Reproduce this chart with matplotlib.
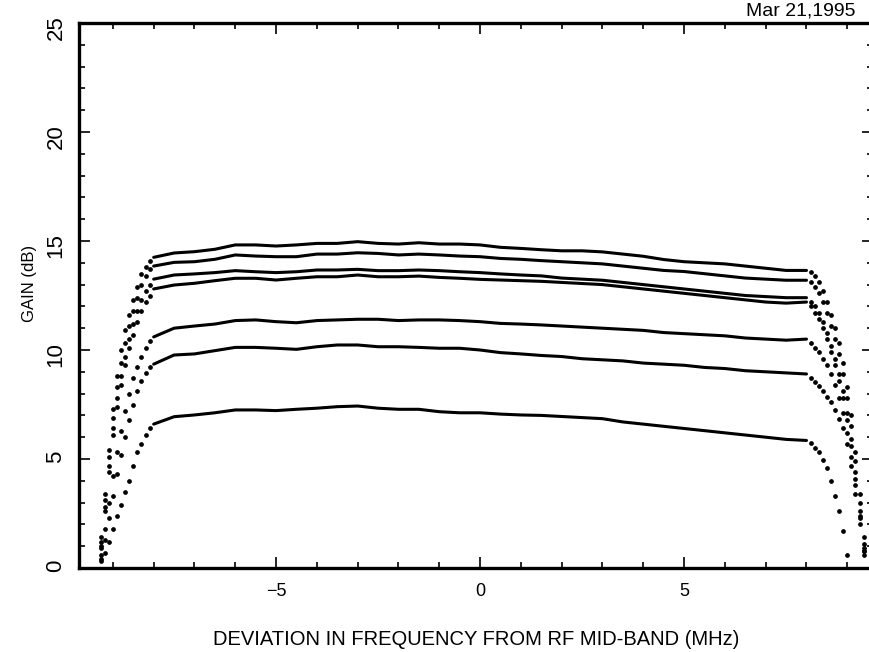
import matplotlib
matplotlib.use('Agg')
import matplotlib.pyplot as plt
import numpy as np

plt.rcParams['font.family'] = ['Liberation Sans', 'DejaVu Sans']

# frequency grids (MHz)
flat_freq = np.arange(-8.0, 8.01, 0.5)
left_freq = [-9.3, -9.2, -9.1, -9.0, -8.9, -8.8, -8.7, -8.6, -8.5, -8.4, -8.3, -8.2, -8.1]
right_freq = [8.1, 8.2, 8.3, 8.4, 8.5, 8.6, 8.7, 8.8, 8.9, 9.0, 9.1, 9.2, 9.3, 9.4]

# gain (dB), flat part of the passband
flat_1 = [14.25, 14.45, 14.51, 14.62, 14.82, 14.82, 14.77, 14.82, 14.89, 14.89, 14.97, 14.89, 14.86, 14.92, 14.86, 14.86, 14.82,
          14.71, 14.66, 14.6, 14.55, 14.55, 14.5, 14.4, 14.3, 14.15, 14.05, 14.0, 13.95, 13.85, 13.75, 13.65, 13.65]
flat_2 = [13.85, 14.02, 14.05, 14.16, 14.36, 14.31, 14.28, 14.28, 14.40, 14.40, 14.46, 14.43, 14.36, 14.40, 14.36, 14.31, 14.28,
          14.2, 14.16, 14.1, 14.05, 14.0, 13.95, 13.85, 13.75, 13.65, 13.6, 13.5, 13.4, 13.3, 13.25, 13.2, 13.2]
flat_3 = [13.25, 13.44, 13.49, 13.55, 13.64, 13.59, 13.55, 13.59, 13.67, 13.67, 13.70, 13.64, 13.64, 13.67, 13.64, 13.59, 13.55,
          13.49, 13.44, 13.4, 13.3, 13.25, 13.2, 13.1, 13.0, 12.9, 12.8, 12.7, 12.6, 12.5, 12.45, 12.4, 12.4]
flat_4 = [12.8, 12.98, 13.06, 13.18, 13.29, 13.29, 13.21, 13.29, 13.36, 13.36, 13.44, 13.36, 13.36, 13.39, 13.33, 13.29, 13.24,
          13.21, 13.18, 13.15, 13.1, 13.05, 13.0, 12.9, 12.8, 12.7, 12.6, 12.5, 12.4, 12.3, 12.2, 12.15, 12.2]
flat_5 = [10.6, 11.0, 11.1, 11.19, 11.35, 11.38, 11.30, 11.25, 11.35, 11.38, 11.41, 11.41, 11.35, 11.38, 11.38, 11.35, 11.30,
          11.22, 11.19, 11.15, 11.1, 11.05, 11.0, 10.95, 10.9, 10.8, 10.75, 10.7, 10.65, 10.55, 10.5, 10.45, 10.5]
flat_6 = [9.35, 9.77, 9.82, 9.97, 10.12, 10.12, 10.08, 10.03, 10.15, 10.23, 10.23, 10.15, 10.15, 10.12, 10.08, 10.08, 10.0,
          9.88, 9.82, 9.75, 9.7, 9.6, 9.55, 9.5, 9.4, 9.35, 9.3, 9.2, 9.15, 9.05, 9.0, 8.95, 8.9]
flat_7 = [6.6, 6.94, 7.02, 7.12, 7.25, 7.25, 7.22, 7.28, 7.33, 7.40, 7.43, 7.33, 7.28, 7.28, 7.17, 7.12, 7.12,
          7.06, 7.02, 7.0, 6.95, 6.9, 6.85, 6.7, 6.6, 6.5, 6.4, 6.3, 6.2, 6.1, 6.0, 5.9, 5.85]

# roll-off samples, lower band edge
left_1 = [1.4, 3.4, 5.4, 7.3, 8.8, 10.0, 10.9, 11.6, 12.3, 12.9, 13.5, 13.8, 14.1]
left_2 = [1.2, 3.1, 5.1, 6.9, 8.3, 9.4, 10.3, 11.1, 11.8, 12.4, 13.0, 13.4, 13.7]
left_3 = [1.0, 2.8, 4.7, 6.4, 7.8, 8.8, 9.7, 10.5, 11.2, 11.8, 12.3, 12.7, 13.0]
left_4 = [0.9, 2.6, 4.4, 6.1, 7.4, 8.4, 9.3, 10.1, 10.7, 11.3, 11.8, 12.2, 12.5]
left_5 = [0.6, 1.8, 3.0, 4.2, 5.3, 6.3, 7.2, 8.0, 8.7, 9.2, 9.7, 10.1, 10.4]
left_6 = [0.4, 1.3, 2.3, 3.3, 4.3, 5.2, 6.0, 6.8, 7.5, 8.1, 8.6, 8.95, 9.2]
left_7 = [0.3, 0.7, 1.2, 1.8, 2.4, 2.9, 3.5, 4.0, 4.7, 5.3, 5.7, 6.1, 6.4]

# roll-off samples, upper band edge
right_1 = [13.6, 13.4, 13.1, 12.7, 12.2, 11.6, 11.0, 10.3, 9.4, 8.3, 7.0, 5.3, 3.4, 1.4]
right_2 = [13.1, 12.9, 12.6, 12.2, 11.7, 11.1, 10.5, 9.8, 8.9, 7.8, 6.5, 4.9, 3.0, 1.1]
right_3 = [12.2, 12.0, 11.7, 11.3, 10.8, 10.2, 9.6, 8.9, 8.1, 7.1, 5.9, 4.4, 2.6, 0.9]
right_4 = [12.0, 11.7, 11.4, 11.0, 10.5, 9.9, 9.3, 8.6, 7.8, 6.8, 5.6, 4.1, 2.4, 0.8]
right_5 = [10.3, 10.1, 9.9, 9.6, 9.3, 8.9, 8.4, 7.8, 7.1, 6.2, 5.1, 3.8, 2.3, 0.8]
right_6 = [8.7, 8.55, 8.35, 8.1, 7.85, 7.6, 7.25, 6.85, 6.4, 5.7, 4.7, 3.4, 2.0, 0.6]
right_7 = [5.75, 5.5, 5.3, 4.95, 4.6, 4.0, 3.3, 2.6, 1.7, 0.6]

flats = [flat_1, flat_2, flat_3, flat_4, flat_5, flat_6, flat_7]
lefts = [left_1, left_2, left_3, left_4, left_5, left_6, left_7]
rights = [right_1, right_2, right_3, right_4, right_5, right_6, right_7]

fig = plt.figure(figsize=(8.7, 6.52), dpi=100)
ax = fig.add_axes([79 / 870, 84 / 652, 794 / 870, 545 / 652])

for flat, left, right in zip(flats, lefts, rights):
    ax.plot(flat_freq, flat, color='black', lw=2.2, solid_capstyle='round')
    ax.plot(left_freq[:len(left)], left, ls='none', marker='o', ms=2.4, color='black')
    ax.plot(right_freq[:len(right)], right, ls='none', marker='o', ms=2.4, color='black')

ax.set_xlim(-9.83, 9.63)
ax.set_ylim(0, 25)
ax.set_xticks([-5, 0, 5])
ax.set_xticks(np.arange(-9, 10, 1), minor=True)
ax.set_yticks([0, 5, 10, 15, 20, 25])
ax.set_yticks(np.arange(0, 26, 1), minor=True)
ax.tick_params(which='both', direction='in', top=True, right=True, width=1.2)
ax.tick_params(which='major', length=8)
ax.tick_params(which='minor', length=4)
ax.tick_params(axis='x', labelsize=13, pad=10.5)
ax.tick_params(axis='y', labelsize=16, labelrotation=90, pad=9)
for sp in ax.spines.values():
    sp.set_linewidth(2.4)

ax.set_xlabel('DEVIATION IN FREQUENCY FROM RF MID-BAND (MHz)', fontsize=14.5, labelpad=22)
ax.set_ylabel('GAIN (dB)', fontsize=12)
ax.yaxis.set_label_coords(-0.053, 0.523)
fig.text(856 / 870, 1 - 11 / 652, 'Mar 21,1995', ha='right', va='center', fontsize=14)

fig.savefig('out.png', dpi=100)
